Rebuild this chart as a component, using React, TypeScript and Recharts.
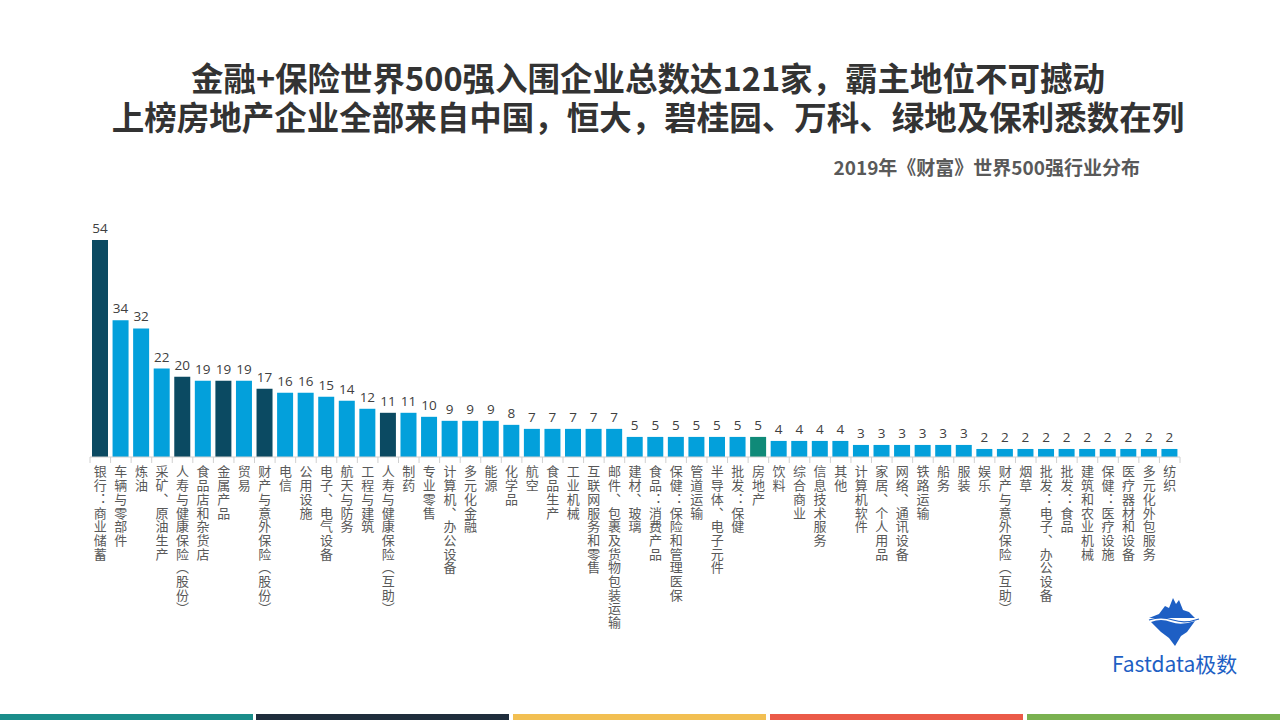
import { BarChart, Bar, XAxis, YAxis, Cell, LabelList } from "recharts";

// 2019年《财富》世界500强行业分布
const categories = [
  "银行：商业储蓄",
  "车辆与零部件",
  "炼油",
  "采矿、原油生产",
  "人寿与健康保险（股份）",
  "食品店和杂货店",
  "金属产品",
  "贸易",
  "财产与意外保险（股份）",
  "电信",
  "公用设施",
  "电子、电气设备",
  "航天与防务",
  "工程与建筑",
  "人寿与健康保险（互助）",
  "制药",
  "专业零售",
  "计算机、办公设备",
  "多元化金融",
  "能源",
  "化学品",
  "航空",
  "食品生产",
  "工业机械",
  "互联网服务和零售",
  "邮件、包裹及货物包装运输",
  "建材、玻璃",
  "食品：消费产品",
  "保健：保险和管理医保",
  "管道运输",
  "半导体、电子元件",
  "批发：保健",
  "房地产",
  "饮料",
  "综合商业",
  "信息技术服务",
  "其他",
  "计算机软件",
  "家居、个人用品",
  "网络、通讯设备",
  "铁路运输",
  "船务",
  "服装",
  "娱乐",
  "财产与意外保险（互助）",
  "烟草",
  "批发：电子、办公设备",
  "批发：食品",
  "建筑和农业机械",
  "保健：医疗设施",
  "医疗器材和设备",
  "多元化外包服务",
  "纺织",
];

const counts = [
  54, 34, 32, 22, 20, 19, 19, 19, 17, 16, 16, 15, 14, 12, 11, 11, 10, 9, 9, 9, 8,
  7, 7, 7, 7, 7, 5, 5, 5, 5, 5, 5, 5, 4, 4, 4, 4, 3, 3, 3, 3, 3, 3, 2, 2, 2, 2, 2,
  2, 2, 2, 2, 2,
];

// categories drawn in the dark colour, and the one highlighted in green
const darkCategories = [
  "银行：商业储蓄",
  "人寿与健康保险（股份）",
  "金属产品",
  "财产与意外保险（股份）",
  "人寿与健康保险（互助）",
];
const greenCategory = "房地产";

const data = categories.map((name, i) => ({ name, value: counts[i] }));

const BLUE = "#03a0db";
const DARK = "#0b4a62";
const GREEN = "#0f8a78";
const FONT = '"Noto Sans CJK SC", "Microsoft YaHei", sans-serif';

const PLOT_LEFT = 90;
const PLOT_RIGHT = 1180;
const HALF_BAND = (PLOT_RIGHT - PLOT_LEFT) / categories.length / 2;

// category names written top-to-bottom, one column per bar
const VerticalTick = (props: any) => {
  const { x, y, payload, index } = props;
  const half = payload?.offset || HALF_BAND;
  return (
    <g>
      <line x1={x - half} x2={x - half} y1={y} y2={y + 6} stroke="#d0d0d0" />
      {index === categories.length - 1 && (
        <line x1={x + half} x2={x + half} y1={y} y2={y + 6} stroke="#d0d0d0" />
      )}
      <text
        x={x}
        y={y + 8}
        fill="#595959"
        fontSize={13}
        fontFamily={FONT}
        style={{
          writingMode: "vertical-rl",
          textOrientation: "upright",
          letterSpacing: "0.7px",
        }}
      >
        {payload.value}
      </text>
    </g>
  );
};

const barColor = (name: string) =>
  name === greenCategory ? GREEN : darkCategories.includes(name) ? DARK : BLUE;

const stripes = ["#1a8d8a", "#1f2d3c", "#f2bf52", "#eb5a48", "#7ab150"];

export default function App() {
  return (
    <div
      style={{
        position: "absolute",
        left: 0,
        top: 0,
        width: 1280,
        height: 720,
        background: "#fff",
        overflow: "hidden",
        fontFamily: FONT,
      }}
    >
      <div
        style={{
          position: "absolute",
          left: 0,
          top: 57,
          width: 1296,
          textAlign: "center",
          fontSize: 32.5,
          fontWeight: 700,
          color: "#333",
          lineHeight: "39px",
        }}
      >
        <div>金融+保险世界500强入围企业总数达121家，霸主地位不可撼动</div>
        <div>上榜房地产企业全部来自中国，恒大，碧桂园、万科、绿地及保利悉数在列</div>
      </div>
      <div
        style={{
          position: "absolute",
          right: 140,
          top: 153,
          fontSize: 19,
          fontWeight: 700,
          color: "#595959",
        }}
      >
        2019年《财富》世界500强行业分布
      </div>

      <div style={{ position: "absolute", left: 0, top: 0 }}>
        <BarChart
          width={1280}
          height={680}
          data={data}
          margin={{ top: 240, right: 1280 - PLOT_RIGHT, left: PLOT_LEFT, bottom: 0 }}
          barSize={16}
        >
          <YAxis hide domain={[0, 54]} />
          <XAxis
            dataKey="name"
            interval={0}
            height={223}
            tickLine={false}
            tickSize={0}
            tickMargin={0}
            axisLine={{ stroke: "#d0d0d0" }}
            tick={<VerticalTick />}
          />
          <Bar dataKey="value" isAnimationActive={false}>
            {data.map((d, i) => (
              <Cell key={i} fill={barColor(d.name)} />
            ))}
            <LabelList
              dataKey="value"
              position="top"
              offset={7}
              fill="#404040"
              fontSize={13.5}
              fontFamily='"Open Sans", sans-serif'
            />
          </Bar>
        </BarChart>
      </div>

      {/* logo */}
      <svg
        style={{ position: "absolute", left: 1145, top: 596 }}
        width={60}
        height={52}
        viewBox="0 0 60 52"
      >
        <path
          d="M4 22 L14 18 L20 10 L24 12 L28 2 L31 8 L34 4 L38 14 L44 16 L50 22 Z"
          fill="#1e5fc4"
        />
        <path
          d="M6 26 Q16 22 26 26 T50 25 L42 36 L36 40 L30 50 L24 42 L16 36 Z"
          fill="#1e5fc4"
        />
        <path d="M4 24 Q16 20 28 24 T54 23" stroke="#1e5fc4" strokeWidth={1.2} fill="none" />
      </svg>
      <div
        style={{
          position: "absolute",
          left: 1112,
          top: 648,
          fontSize: 21,
          color: "#1e5fc4",
          fontFamily: '"Noto Sans CJK SC", "Open Sans", sans-serif',
        }}
      >
        Fastdata极数
      </div>

      {stripes.map((c, i) => (
        <div
          key={i}
          style={{
            position: "absolute",
            left: i * 257 - (i > 0 ? 1 : 0),
            top: 714,
            width: 253,
            height: 6,
            background: c,
          }}
        />
      ))}
    </div>
  );
}
